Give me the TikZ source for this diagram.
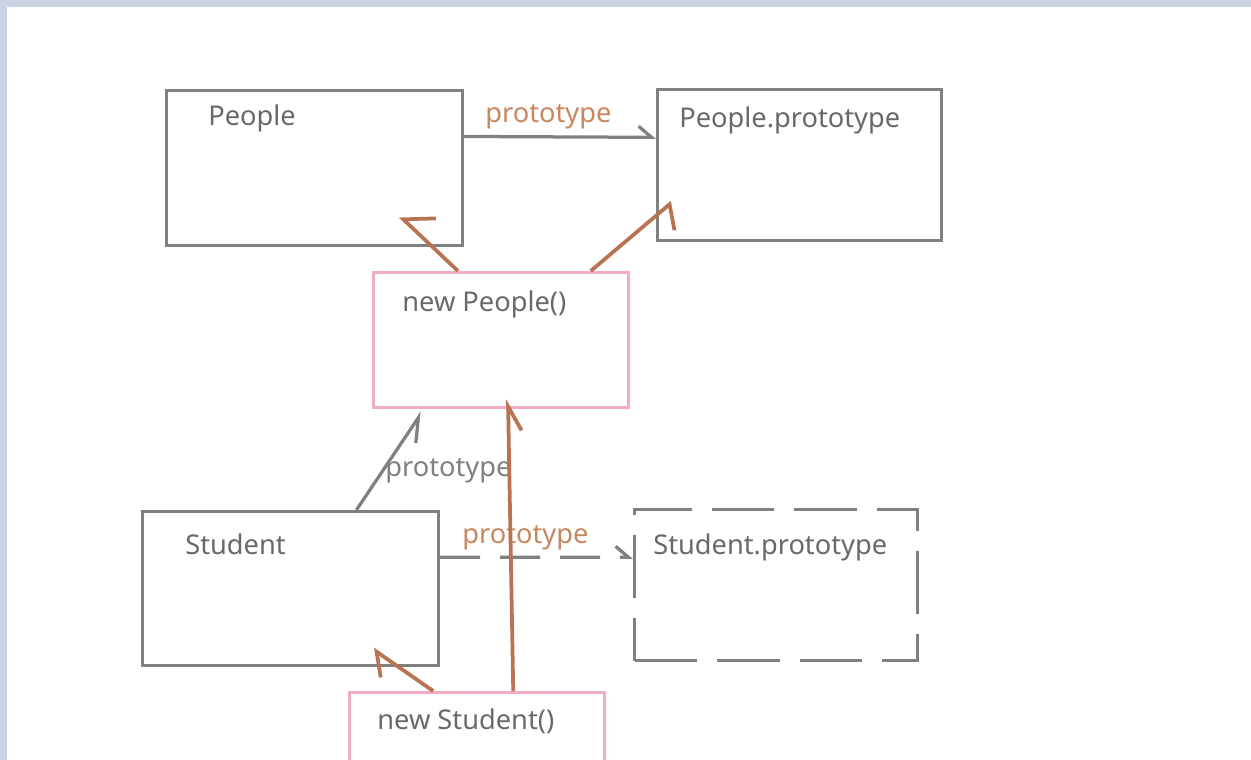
\documentclass[tikz,border=0pt]{standalone}
\usepackage{fontspec}
\setmainfont{Noto Sans}
\usepackage{xcolor}
\usetikzlibrary{arrows.meta, positioning, calc}
\definecolor{boxgray}{RGB}{128,128,128}
\definecolor{textgray}{RGB}{105,105,105}
\definecolor{linkpink}{RGB}{242,172,198}
\definecolor{linkbrown}{RGB}{184,116,82}
\definecolor{labelbrown}{RGB}{200,135,95}
\definecolor{framegray}{RGB}{204,212,228}
\tikzset{
  objbox/.style = {rectangle, draw=boxgray, line width=0.065cm, anchor=north west},
  instbox/.style = {rectangle, draw=linkpink, line width=0.065cm, anchor=north west},
  protobox/.style = {objbox, dash pattern=on 1.25cm off 0.4cm},
  boxtitle/.style = {anchor=west, inner sep=0pt, text=textgray, font=\fontsize{15.5}{18}\selectfont},
  protolabel/.style = {anchor=west, inner sep=0pt, font=\fontsize{15.5}{18}\selectfont},
  graylink/.style = {draw=boxgray, line width=0.065cm},
  brownlink/.style = {draw=linkbrown, line width=0.075cm},
  harpl/.style 2 args = {-{Straight Barb[harpoon, length=#1, width=#2]}},
  harpr/.style 2 args = {-{Straight Barb[harpoon, swap, length=#1, width=#2]}},
}
\begin{document}
\begin{tikzpicture}[x=0.02cm, y=-0.02cm]

  \useasboundingbox (0,0) rectangle (1251,760);
  \clip (0,0) rectangle (1251,760);
  \fill[framegray] (0,0) rectangle (1251,760);
  \fill[white] (7,7) rectangle (1251,760);

  % Boxes
  \node[objbox, minimum width=5.92cm, minimum height=3.10cm] (people) at (165,89) {};
  \node[objbox, minimum width=5.68cm, minimum height=3.02cm] (pproto) at (656,88) {};
  \node[instbox, minimum width=5.10cm, minimum height=2.70cm] (newpeople) at (372,271) {};
  \node[objbox, minimum width=5.92cm, minimum height=3.08cm] (student) at (141,510) {};
  \node[protobox, minimum width=5.66cm, minimum height=3.02cm] (sproto) at (633,508) {};
  \node[instbox, minimum width=5.10cm, minimum height=2.70cm] (newstudent) at (348,691) {};

  % Titles
  \node[boxtitle] (peopleT) at (208,118) {People};
  \node[boxtitle] (pprotoT) at (679,120) {People.prototype};
  \node[boxtitle] (newpeopleT) at (402,304) {new People()};
  \node[boxtitle] (studentT) at (185,544) {Student};
  \node[boxtitle] (sprotoT) at (653,547) {Student.prototype};
  \node[boxtitle] (newstudentT) at (377,721) {new Student()};

  % prototype links
  \draw[graylink, harpl={0.26cm}{0.44cm}]
    ($(people.north east)!0.30!(people.south east)$)
    -- ($(pproto.north west)!0.32!(pproto.south west)$);
  \node[protolabel, text=labelbrown] (lab1) at (485,117) {prototype};

  \draw[graylink, harpr={0.45cm}{0.48cm}]
    ($(student.north west)!0.72!(student.north east)$)
    -- ($(newpeople.south west)+(50,3)$);
  \node[protolabel, text=boxgray] (lab2) at (385,471) {prototype};

  \draw[graylink, dash pattern=on 0.8cm off 0.4cm, harpl={0.26cm}{0.44cm}]
    ($(student.north east)!0.30!(student.south east)$)
    -- ($(sproto.north west)!0.32!(sproto.south west)$);
  \node[protolabel, text=labelbrown] (lab3) at (462,538) {prototype};

  % instance links
  \draw[brownlink, harpr={0.46cm}{0.92cm}]
    ($(newpeople.north west)!0.333!(newpeople.north east)$)
    -- ($(people.south west)+(235,-31)$);
  \draw[brownlink, harpr={0.26cm}{0.92cm}]
    ($(newpeople.north west)!0.847!(newpeople.north east)$)
    -- ($(pproto.south west)+(16,-40)$);
  \draw[brownlink, harpl={0.36cm}{0.75cm}]
    ($(newstudent.north west)!0.33!(newstudent.north east)$)
    -- ($(student.south west)+(232,-18)$);
  \draw[brownlink, harpr={0.48cm}{0.52cm}]
    ($(newstudent.north west)!0.64!(newstudent.north east)$)
    -- ($(newpeople.south west)+(136,-10)$);

\end{tikzpicture}
\end{document}
